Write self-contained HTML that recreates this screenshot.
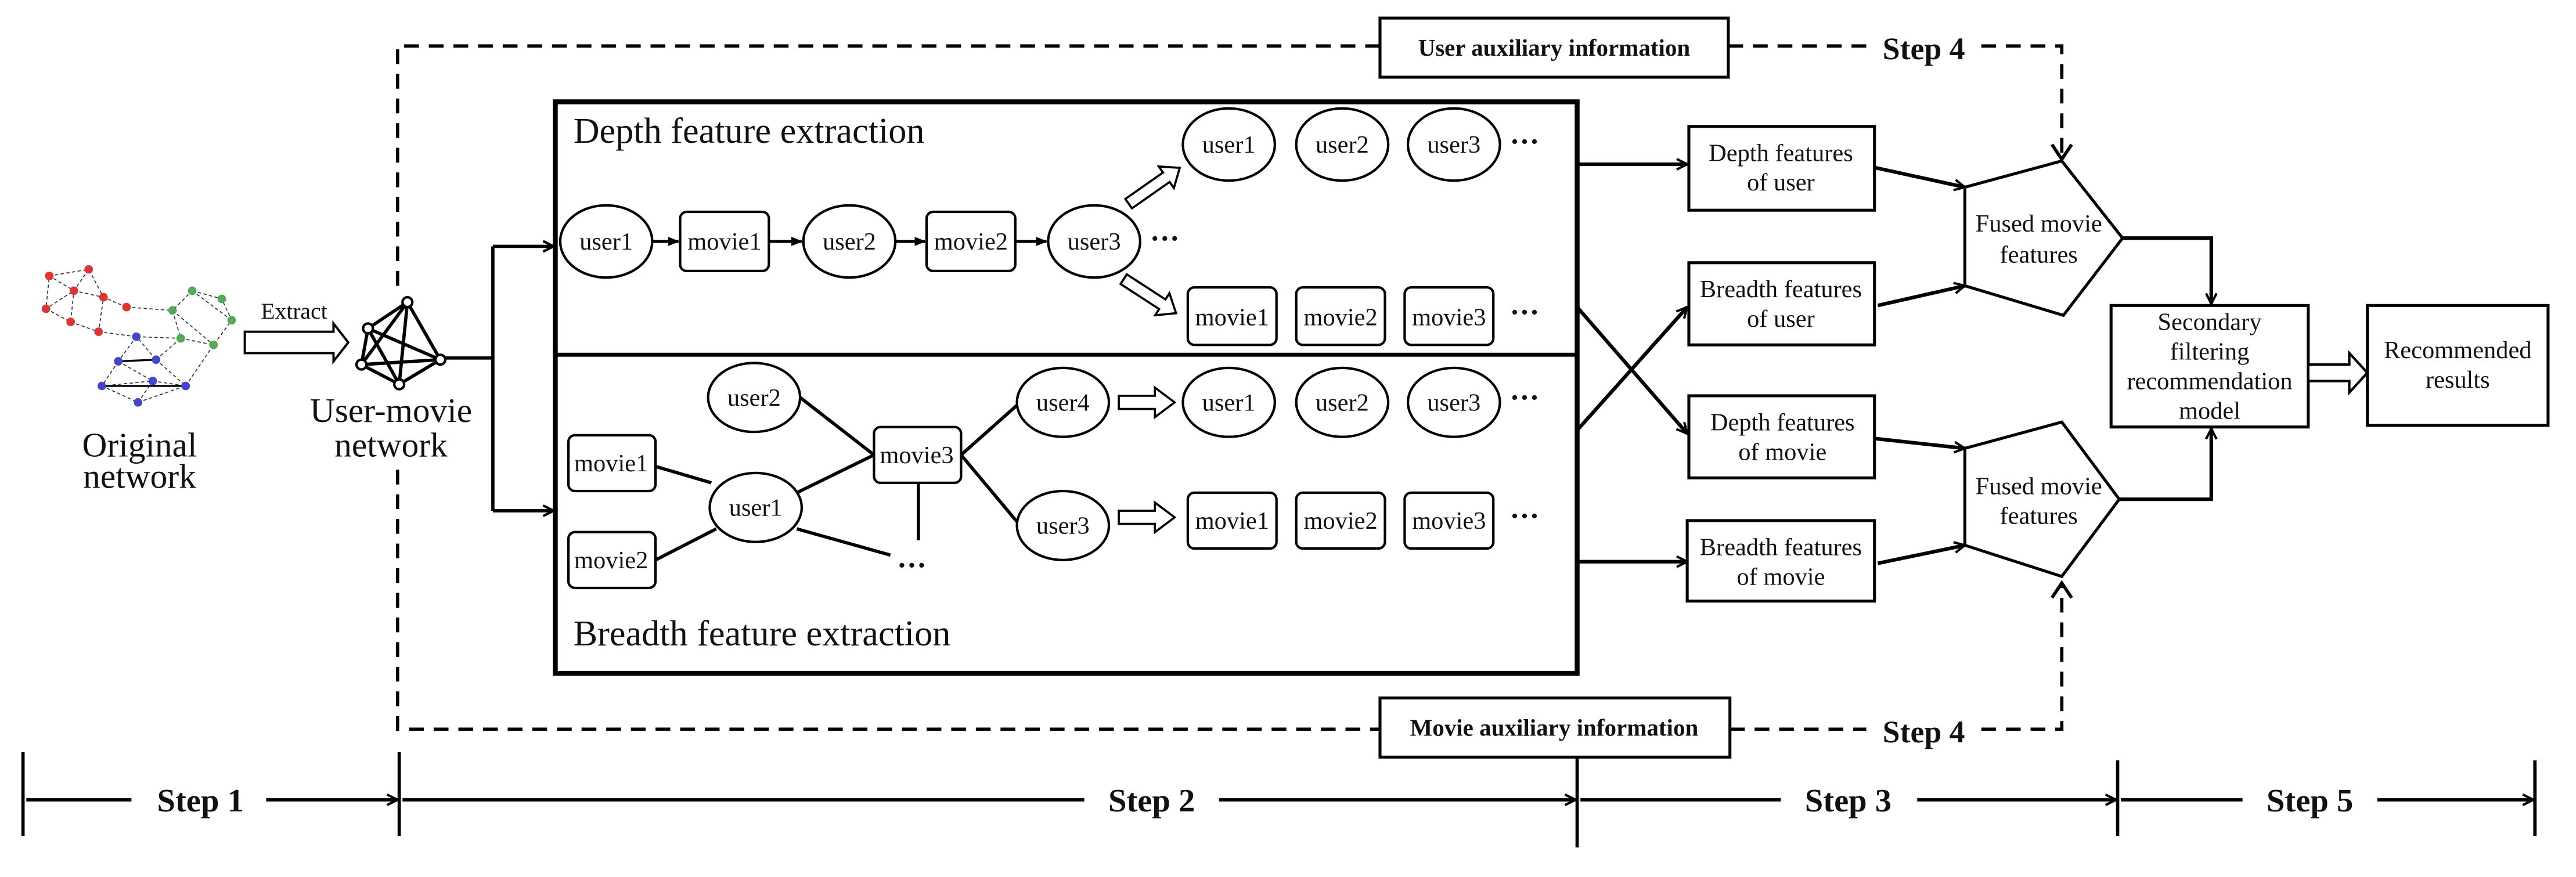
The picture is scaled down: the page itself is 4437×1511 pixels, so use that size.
<!DOCTYPE html>
<html><head><meta charset="utf-8"><style>html,body{margin:0;padding:0;background:#fff}svg{display:block}text{font-family:"Liberation Serif",serif;fill:#111}</style></head><body>
<svg width="4437" height="1511" viewBox="0 0 1568 534" preserveAspectRatio="none" xmlns="http://www.w3.org/2000/svg" font-family="Liberation Serif, serif">
<defs>
<marker id="a" viewBox="0 0 10 10" refX="9" refY="5" markerWidth="8" markerHeight="8" markerUnits="userSpaceOnUse" orient="auto"><path d="M1,1 L9,5 L1,9" fill="none" stroke="#000" stroke-width="1.8"/></marker>
<marker id="f" viewBox="0 0 10 10" refX="9" refY="5" markerWidth="7" markerHeight="7" markerUnits="userSpaceOnUse" orient="auto"><path d="M0,1 L10,5 L0,9 z" fill="#000"/></marker>
</defs>
<rect width="1568" height="534" fill="#fff"/>
<!-- original network -->
<g stroke="#333" stroke-width="0.6" stroke-dasharray="2,1.5" fill="none">
<path d="M30,168L54,164L45,177L30,168L28,188L45,177L63,181L54,164M28,188L43,196L45,177M43,196L60,202L63,181L77,187M60,202L83,205M77,187L105,189M117,177L135,182L141,195L130,210L110,206L105,189L117,177M105,189L130,210M117,177L141,195M110,206L83,205M83,205L72,220L95,219L83,205M72,220L62,235L93,232L113,235L84,245L62,235M95,219L113,235M72,220L93,232M95,219L110,206M113,235L130,210M84,245L93,232"/>
</g>
<g stroke="#000" stroke-width="1.2" fill="none"><path d="M62,235L113,235M72,220L95,219"/></g>
<g fill="#d33"><circle cx="30" cy="168" r="2.6"/><circle cx="54" cy="164" r="2.6"/><circle cx="45" cy="177" r="2.6"/><circle cx="63" cy="181" r="2.6"/><circle cx="28" cy="188" r="2.6"/><circle cx="43" cy="196" r="2.6"/><circle cx="60" cy="202" r="2.6"/><circle cx="77" cy="187" r="2.6"/></g>
<g fill="#5a5"><circle cx="117" cy="177" r="2.6"/><circle cx="135" cy="182" r="2.6"/><circle cx="105" cy="189" r="2.6"/><circle cx="141" cy="195" r="2.6"/><circle cx="110" cy="206" r="2.6"/><circle cx="130" cy="210" r="2.6"/></g>
<g fill="#44c"><circle cx="83" cy="205" r="2.6"/><circle cx="72" cy="220" r="2.6"/><circle cx="95" cy="219" r="2.6"/><circle cx="62" cy="235" r="2.6"/><circle cx="93" cy="232" r="2.6"/><circle cx="113" cy="235" r="2.6"/><circle cx="84" cy="245" r="2.6"/></g>
<text x="85" y="278" font-size="21" text-anchor="middle">Original</text>
<text x="85" y="297" font-size="21" text-anchor="middle">network</text>
<text x="179" y="194" font-size="14" text-anchor="middle">Extract</text>
<path d="M149,202 L203,202 L203,197 L212,208.5 L203,220 L203,215 L149,215 z" fill="#fff" stroke="#000" stroke-width="1.4"/>
<!-- network icon -->
<g stroke="#000" stroke-width="2" fill="none"><path d="M248,184 L224,200 L220,222 L243,234 L268,219 Z M248,184 L243,234 M248,184 L220,222 M224,200 L268,219 M224,200 L243,234 M220,222 L268,219 M248,184 L268,219"/></g>
<g fill="#fff" stroke="#000" stroke-width="1.5"><circle cx="248" cy="184" r="3"/><circle cx="224" cy="200" r="3"/><circle cx="220" cy="222" r="3"/><circle cx="243" cy="234" r="3"/><circle cx="268" cy="219" r="3"/></g>
<text x="238" y="257" font-size="21" text-anchor="middle">User-movie</text>
<text x="238" y="278" font-size="21" text-anchor="middle">network</text>
<!-- split -->
<g stroke="#000" stroke-width="2" fill="none"><path d="M271,218 L300,218 M300,150 L300,311"/><path d="M300,150 L337,150" marker-end="url(#a)"/><path d="M300,311 L337,311" marker-end="url(#a)"/></g>
<!-- dashed aux -->
<g stroke="#000" stroke-width="2" fill="none" stroke-dasharray="9,6">
<path d="M242,174 L242,28 L840,28"/><path d="M1052,28 L1136,28"/><path d="M1206,28 L1255,28 L1255,95"/>
<path d="M242,286 L242,444 L840,444"/><path d="M1053,444 L1136,444"/><path d="M1206,444 L1255,444 L1255,356"/>
</g>
<g stroke="#000" stroke-width="2" fill="none"><path d="M1249,88 L1255,97 L1261,88"/><path d="M1249,364 L1255,355 L1261,364"/></g>
<rect x="840" y="11" width="212" height="36" fill="#fff" stroke="#000" stroke-width="1.8"/>
<text x="946" y="34" font-size="14.5" font-weight="bold" text-anchor="middle">User auxiliary information</text>
<rect x="840" y="425" width="213" height="36" fill="#fff" stroke="#000" stroke-width="1.8"/>
<text x="946" y="448" font-size="14.5" font-weight="bold" text-anchor="middle">Movie auxiliary information</text>
<text x="1171" y="36" font-size="19" font-weight="bold" text-anchor="middle">Step 4</text>
<text x="1171" y="452" font-size="19" font-weight="bold" text-anchor="middle">Step 4</text>
<!-- big box -->
<rect x="338" y="62" width="622" height="348" fill="#fff" stroke="#000" stroke-width="3"/>
<line x1="338" y1="216" x2="960" y2="216" stroke="#000" stroke-width="2.4"/>
<text x="349" y="87" font-size="22">Depth feature extraction</text>
<text x="349" y="393" font-size="22">Breadth feature extraction</text>
<g fill="#fff" stroke="#000" stroke-width="1.5">
<ellipse cx="369" cy="147" rx="28" ry="22"/><rect x="414" y="129" width="54" height="36" rx="4"/><ellipse cx="517" cy="147" rx="28" ry="22"/><rect x="564" y="129" width="54" height="36" rx="4"/><ellipse cx="666" cy="147" rx="28" ry="22"/>
<ellipse cx="748" cy="88" rx="28" ry="22"/><ellipse cx="817" cy="88" rx="28" ry="22"/><ellipse cx="885" cy="88" rx="28" ry="22"/>
<rect x="723" y="175" width="54" height="35" rx="4"/><rect x="789" y="175" width="54" height="35" rx="4"/><rect x="855" y="175" width="54" height="35" rx="4"/>
</g>
<g stroke="#000" stroke-width="1.8" fill="none"><path d="M397,147L413,147" marker-end="url(#f)"/><path d="M468,147L488,147" marker-end="url(#f)"/><path d="M545,147L563,147" marker-end="url(#f)"/><path d="M618,147L637,147" marker-end="url(#f)"/></g>
<g font-size="15" text-anchor="middle">
<text x="369" y="152">user1</text><text x="441" y="152">movie1</text><text x="517" y="152">user2</text><text x="591" y="152">movie2</text><text x="666" y="152">user3</text>
<text x="748" y="93">user1</text><text x="817" y="93">user2</text><text x="885" y="93">user3</text>
<text x="750" y="198">movie1</text><text x="816" y="198">movie2</text><text x="882" y="198">movie3</text>
</g>
<g font-size="18" font-weight="bold"><text x="700" y="151">···</text><text x="919" y="92">···</text><text x="919" y="196">···</text><text x="919" y="248">···</text><text x="919" y="320">···</text><text x="546" y="350">···</text></g>
<!-- hollow diagonal arrows -->
<g transform="translate(687,124) rotate(-35)"><path d="M0,-3.5 L28,-3.5 L28,-8 L38,0 L28,8 L28,3.5 L0,3.5 z" fill="#fff" stroke="#000" stroke-width="1.3"/></g>
<g transform="translate(684,170) rotate(33)"><path d="M0,-3.5 L28,-3.5 L28,-8 L38,0 L28,8 L28,3.5 L0,3.5 z" fill="#fff" stroke="#000" stroke-width="1.3"/></g>
<!-- breadth -->
<g stroke="#000" stroke-width="2" fill="none"><path d="M487,242 L532,277 M485,300 L532,277 M399,284 L433,294 M399,341 L436,322 M485,322 L542,338 M559,294 L559,329 M585,277 L621,245 M585,277 L621,320"/></g>
<g fill="#fff" stroke="#000" stroke-width="1.5">
<ellipse cx="459" cy="242" rx="28" ry="21"/><rect x="346" y="265" width="53" height="34" rx="4"/><ellipse cx="460" cy="309" rx="28" ry="21"/><rect x="346" y="324" width="53" height="34" rx="4"/><rect x="532" y="260" width="53" height="34" rx="4"/><ellipse cx="647" cy="245" rx="28" ry="21"/><ellipse cx="647" cy="320" rx="28" ry="21"/>
<ellipse cx="748" cy="245" rx="28" ry="21"/><ellipse cx="817" cy="245" rx="28" ry="21"/><ellipse cx="885" cy="245" rx="28" ry="21"/>
<rect x="723" y="300" width="54" height="34" rx="4"/><rect x="789" y="300" width="54" height="34" rx="4"/><rect x="855" y="300" width="54" height="34" rx="4"/>
</g>
<g font-size="15" text-anchor="middle">
<text x="459" y="247">user2</text><text x="372" y="287">movie1</text><text x="460" y="314">user1</text><text x="372" y="346">movie2</text><text x="558" y="282">movie3</text><text x="647" y="250">user4</text><text x="647" y="325">user3</text>
<text x="748" y="250">user1</text><text x="817" y="250">user2</text><text x="885" y="250">user3</text>
<text x="750" y="322">movie1</text><text x="816" y="322">movie2</text><text x="882" y="322">movie3</text>
</g>
<path d="M681,241 L703,241 L703,236 L715,245 L703,254 L703,249 L681,249 z" fill="#fff" stroke="#000" stroke-width="1.3"/>
<path d="M681,311 L703,311 L703,306 L715,315 L703,324 L703,319 L681,319 z" fill="#fff" stroke="#000" stroke-width="1.3"/>
<!-- outputs -->
<g stroke="#000" stroke-width="2.2" fill="none">
<path d="M960,100 L1027,100" marker-end="url(#a)"/><path d="M960,342 L1027,342" marker-end="url(#a)"/>
<path d="M960,187 L1027,264" marker-end="url(#a)"/><path d="M960,262 L1027,187" marker-end="url(#a)"/>
<path d="M1141,102 L1196,114" marker-end="url(#a)"/><path d="M1143,186 L1196,174" marker-end="url(#a)"/>
<path d="M1141,267 L1196,273" marker-end="url(#a)"/><path d="M1143,343 L1196,332" marker-end="url(#a)"/>
<path d="M1292,145 L1346,145 L1346,185" marker-end="url(#a)"/><path d="M1290,304 L1346,304 L1346,261" marker-end="url(#a)"/>
</g>
<g fill="#fff" stroke="#000" stroke-width="1.8">
<rect x="1028" y="77" width="113" height="51"/><rect x="1028" y="160" width="113" height="50"/><rect x="1028" y="241" width="113" height="50"/><rect x="1027" y="317" width="114" height="49"/>
<path d="M1196,114 L1255,98 L1292,145 L1256,192 L1196,174 Z"/><path d="M1196,273 L1255,257 L1290,304 L1255,351 L1196,332 Z"/>
<rect x="1285" y="186" width="120" height="74"/><rect x="1441" y="186" width="110" height="73"/>
</g>
<g font-size="15" text-anchor="middle">
<text x="1084" y="98">Depth features</text><text x="1084" y="116">of user</text>
<text x="1084" y="181">Breadth features</text><text x="1084" y="199">of user</text>
<text x="1085" y="262">Depth features</text><text x="1085" y="280">of movie</text>
<text x="1084" y="338">Breadth features</text><text x="1084" y="356">of movie</text>
<text x="1241" y="141">Fused movie</text><text x="1241" y="160">features</text>
<text x="1241" y="301">Fused movie</text><text x="1241" y="319">features</text>
<text x="1345" y="201">Secondary</text><text x="1345" y="219">filtering</text><text x="1345" y="237">recommendation</text><text x="1345" y="255">model</text>
<text x="1496" y="218">Recommended</text><text x="1496" y="236">results</text>
</g>
<path d="M1405,222 L1430,222 L1430,215 L1441,227 L1430,239 L1430,232 L1405,232 z" fill="#fff" stroke="#000" stroke-width="1.5"/>
<!-- step line -->
<g stroke="#000" stroke-width="2" fill="none">
<path d="M14,458 L14,509 M243,458 L243,509 M960,461 L960,516 M1289,463 L1289,509 M1543,463 L1543,509"/>
<path d="M16,487 L80,487"/><path d="M162,487 L242,487" marker-end="url(#a)"/>
<path d="M245,487 L660,487"/><path d="M742,487 L959,487" marker-end="url(#a)"/>
<path d="M962,487 L1084,487"/><path d="M1167,487 L1288,487" marker-end="url(#a)"/>
<path d="M1291,487 L1365,487"/><path d="M1447,487 L1542,487" marker-end="url(#a)"/>
</g>
<g font-size="20" font-weight="bold" text-anchor="middle">
<text x="122" y="494">Step 1</text><text x="701" y="494">Step 2</text><text x="1125" y="494">Step 3</text><text x="1406" y="494">Step 5</text>
</g>
</svg>
</body></html>
